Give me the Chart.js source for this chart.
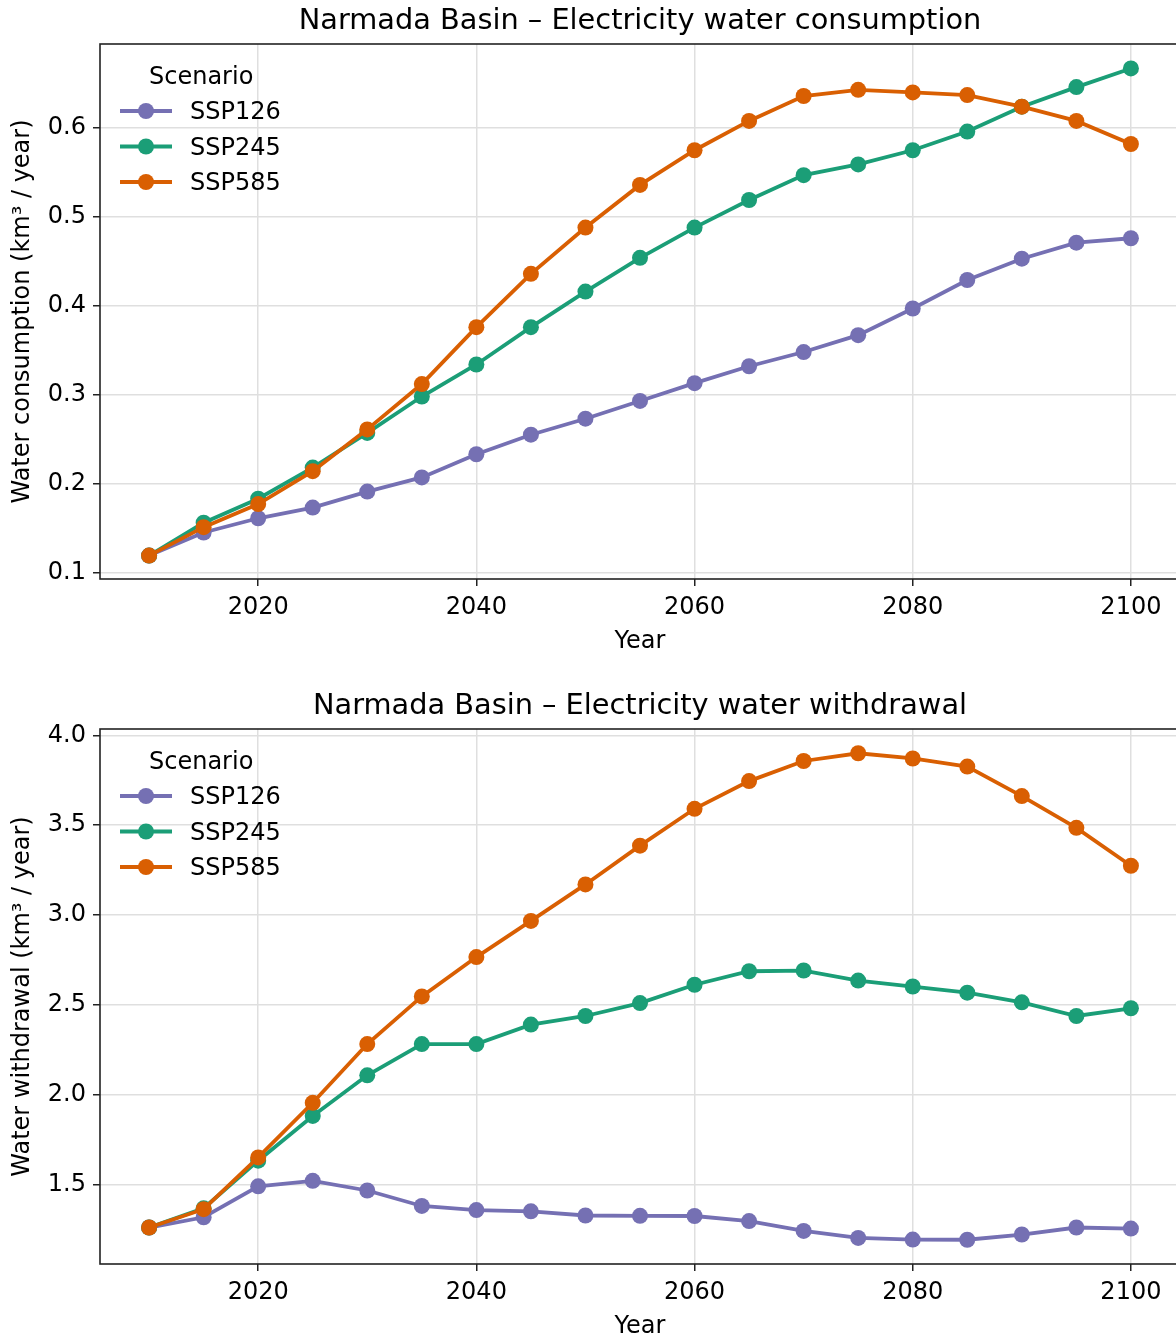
<!DOCTYPE html>
<html>
<head>
<meta charset="utf-8">
<script src="https://cdn.jsdelivr.net/npm/chart.js@4/dist/chart.umd.min.js"></script>
<style>
  html, body { margin:0; padding:0; background:#fff; overflow:hidden; width:1176px; height:1338px; }
  .wrap { position:absolute; left:0; width:1200px; height:685px; }
  canvas { display:block; }
</style>
</head>
<body>
<div class="wrap" style="top:0"><canvas id="c1" width="1200" height="685"></canvas></div>
<div class="wrap" style="top:685px"><canvas id="c2" width="1200" height="685"></canvas></div>
<script>
// ---- data ----
const years = [2010,2015,2020,2025,2030,2035,2040,2045,2050,2055,2060,2065,2070,2075,2080,2085,2090,2095,2100];
const scenarios = ["SSP126","SSP245","SSP585"];
const colors = ["#7570b3","#1b9e77","#d95f02"];

const consSSP126 = [0.119,0.145,0.161,0.173,0.191,0.207,0.233,0.255,0.273,0.293,0.313,0.332,0.348,0.367,0.397,0.429,0.453,0.471,0.476];
const consSSP245 = [0.119,0.156,0.183,0.218,0.257,0.298,0.334,0.376,0.416,0.454,0.488,0.519,0.547,0.559,0.575,0.596,0.624,0.646,0.667];
const consSSP585 = [0.119,0.151,0.177,0.214,0.261,0.312,0.376,0.436,0.488,0.536,0.575,0.608,0.636,0.643,0.640,0.637,0.624,0.608,0.582];

const withSSP126 = [1.261,1.318,1.490,1.521,1.467,1.381,1.358,1.351,1.328,1.326,1.325,1.297,1.242,1.203,1.194,1.193,1.222,1.261,1.255];
const withSSP245 = [1.261,1.368,1.633,1.882,2.108,2.282,2.282,2.390,2.438,2.510,2.612,2.687,2.691,2.635,2.602,2.568,2.514,2.438,2.481];
const withSSP585 = [1.261,1.363,1.651,1.955,2.282,2.547,2.766,2.967,3.170,3.386,3.591,3.745,3.857,3.900,3.871,3.826,3.662,3.485,3.274];

const yearTicks = [2020,2040,2060,2080,2100];
const consTicks = [0.1,0.2,0.3,0.4,0.5,0.6];
const withTicks = [1.5,2.0,2.5,3.0,3.5,4.0];

// ---- chart builder ----
const FONT = "'DejaVu Sans', 'Liberation Sans', sans-serif";
const DARK = "#222222";
const GRID = "#dfdfdf";

const deco = {
  id: 'deco',
  beforeDraw(chart) {
    const ctx = chart.ctx;
    ctx.save();
    ctx.fillStyle = '#ffffff';
    ctx.fillRect(0, 0, chart.width, chart.height);
    ctx.restore();
  },
  afterDraw(chart, args, o) {
    const ctx = chart.ctx;
    const a = chart.chartArea;
    ctx.save();
    // spines
    ctx.strokeStyle = DARK;
    ctx.lineWidth = 1.6;
    ctx.strokeRect(a.left, a.top, a.right - a.left, a.bottom - a.top);
    // title
    ctx.fillStyle = '#000';
    ctx.font = "28.8px " + FONT;
    ctx.textAlign = 'center';
    ctx.textBaseline = 'middle';
    ctx.fillText(o.title, (a.left + a.right) / 2, 22);
    // x label
    ctx.font = "24px " + FONT;
    ctx.fillText("Year", (a.left + a.right) / 2, 642);
    // y label
    ctx.save();
    ctx.translate(23, (a.top + a.bottom) / 2);
    ctx.rotate(-Math.PI / 2);
    ctx.fillText(o.ylabel, 0, 0);
    ctx.restore();
    // legend
    ctx.textAlign = 'left';
    ctx.font = "24px " + FONT;
    ctx.fillText("Scenario", 149, 78);
    chart.data.datasets.forEach((ds, i) => {
      const y = 111 + i * 35.5;
      ctx.strokeStyle = ds.borderColor;
      ctx.lineWidth = 3.8;
      ctx.beginPath();
      ctx.moveTo(120, y);
      ctx.lineTo(172, y);
      ctx.stroke();
      ctx.fillStyle = ds.borderColor;
      ctx.beginPath();
      ctx.arc(146, y, 8, 0, Math.PI * 2);
      ctx.fill();
      ctx.fillStyle = '#000';
      ctx.fillText(ds.label, 190, y + 2);
    });
    ctx.restore();
  }
};

function makeChart(id, series, ymin, ymax, yTicks, title, ylabel) {
  const datasets = scenarios.map((s, i) => ({
    label: s,
    data: years.map((yr, j) => ({ x: yr, y: series[i][j] })),
    borderColor: colors[i],
    backgroundColor: colors[i],
    pointBackgroundColor: colors[i],
    pointBorderColor: colors[i],
    borderWidth: 3.8,
    pointRadius: 8,
    pointBorderWidth: 0,
    tension: 0,
    order: 3 - i
  }));
  return new Chart(document.getElementById(id), {
    type: 'line',
    data: { datasets },
    options: {
      responsive: false,
      animation: false,
      devicePixelRatio: 1,
      layout: { padding: { top: 44, right: 20, left: 0, bottom: 0 } },
      plugins: {
        legend: { display: false },
        title: { display: false },
        tooltip: { enabled: false },
        deco: { title, ylabel }
      },
      scales: {
        x: {
          type: 'linear',
          min: 2005.5,
          max: 2104.5,
          afterBuildTicks: (s) => { s.ticks = yearTicks.map(v => ({ value: v })); },
          afterFit: (s) => { s.height = 106; },
          ticks: {
            font: { family: FONT, size: 24 },
            color: '#000',
            padding: 7,
            maxRotation: 0,
            callback: (v) => String(v)
          },
          grid: { color: GRID, lineWidth: 1.5, tickColor: DARK, tickLength: 7, tickWidth: 1.5, drawTicks: true },
          border: { display: false }
        },
        y: {
          type: 'linear',
          min: ymin,
          max: ymax,
          afterBuildTicks: (s) => { s.ticks = yTicks.map(v => ({ value: v })); },
          afterFit: (s) => { s.width = 100; },
          ticks: {
            font: { family: FONT, size: 24 },
            color: '#000',
            padding: 7,
            callback: (v) => Number(v).toFixed(1)
          },
          grid: { color: GRID, lineWidth: 1.5, tickColor: DARK, tickLength: 7, tickWidth: 1.5, drawTicks: true },
          border: { display: false }
        }
      }
    },
    plugins: [deco]
  });
}

makeChart('c1', [consSSP126, consSSP245, consSSP585], 0.0927, 0.6945, consTicks,
  "Narmada Basin – Electricity water consumption", "Water consumption (km³ / year)");
makeChart('c2', [withSSP126, withSSP245, withSSP585], 1.058, 4.035, withTicks,
  "Narmada Basin – Electricity water withdrawal", "Water withdrawal (km³ / year)");
</script>
</body>
</html>
